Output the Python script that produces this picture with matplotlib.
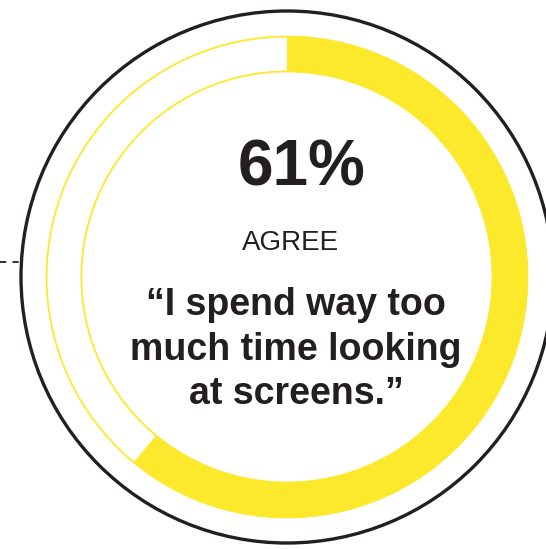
import matplotlib
matplotlib.use("Agg")
import matplotlib.pyplot as plt
from matplotlib.patches import Circle, Wedge

# Survey result
agree_pct = 61
headline = f"{agree_pct}%"
label = "AGREE"
quote_lines = ["\u201cI spend way too", "much time looking", "at screens.\u201d"]

W, H = 546, 549
fig = plt.figure(figsize=(W / 100, H / 100), dpi=100)
ax = fig.add_axes([0, 0, 1, 1])
ax.set_xlim(0, W)
ax.set_ylim(0, H)
ax.set_aspect("equal")
ax.axis("off")

yellow = "#FDE92B"
ink = "#231F20"
cx, cy = 287, H - 277

# outer black ring
ax.add_patch(Circle((cx, cy), 266, fill=False, ec=ink, lw=2.4))
# dashed leader line on the left
ax.plot([0, cx - 266], [H - 262, H - 262], ls=(0, (3.2, 3.2)), color="#333333", lw=1.4)

# progress ring
r_out, r_in = 241, 205
ax.add_patch(Circle((cx, cy), r_out - 0.6, fill=False, ec=yellow, lw=1.3))
ax.add_patch(Circle((cx, cy), r_in + 0.6, fill=False, ec=yellow, lw=1.3))
ax.add_patch(Wedge((cx, cy), r_out, 90 - agree_pct / 100 * 360, 90,
                   width=r_out - r_in, fc=yellow, ec="none"))

font = "Liberation Sans"
ax.text(302, H - 186, headline, ha="center", va="baseline", fontsize=46,
        fontweight="bold", color=ink, family=font)
ax.text(291, H - 250, label, ha="center", va="baseline", fontsize=20,
        color=ink, family=font)
for i, line in enumerate(quote_lines):
    ax.text(296, H - 315 - i * 44.5, line, ha="center", va="baseline",
            fontsize=27, fontweight="bold", color=ink, family=font)

fig.savefig("out.png", dpi=100)
